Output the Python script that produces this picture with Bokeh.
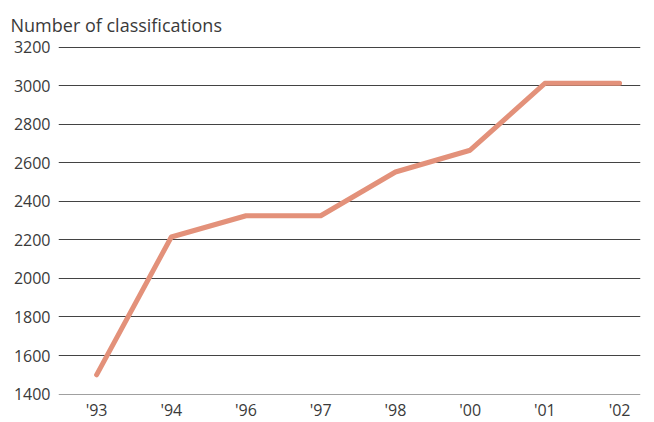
from bokeh.plotting import figure
from bokeh.models import FixedTicker, Range1d, Title
from bokeh.embed import file_html
from bokeh.resources import INLINE

years = ["'93", "'94", "'96", "'97", "'98", "'00", "'01", "'02"]
classifications = [1500, 2215, 2325, 2325, 2552, 2665, 3012, 3012]
y_ticks = [1400, 1600, 1800, 2000, 2200, 2400, 2600, 2800, 3000, 3200]

xs = list(range(len(years)))
FONT = "Open Sans"
TEXT = "#3a3a3a"

p = figure(frame_width=582, frame_height=348, output_backend="svg", toolbar_location=None,
           x_range=Range1d(-0.51, 7.28), y_range=Range1d(1398, 3203),
           min_border_left=58, min_border_right=14, min_border_top=46, min_border_bottom=24)
p.title = None
t = Title(text="Number of classifications", align="left", offset=-48,
          text_font=FONT, text_font_size="18px", text_font_style="normal",
          text_color=TEXT, standoff=20)
p.add_layout(t, "above")

p.line(xs, classifications, line_color="#E3917A", line_width=5, line_cap="round", line_join="round")

p.outline_line_color = None
p.xgrid.grid_line_color = None
p.ygrid.ticker = FixedTicker(ticks=y_ticks)
p.ygrid.grid_line_color = "#222222"
p.ygrid.grid_line_width = 1
p.ygrid.grid_line_alpha = 0.85

p.yaxis.ticker = FixedTicker(ticks=y_ticks)
p.xaxis.ticker = FixedTicker(ticks=xs)
p.xaxis.major_label_overrides = {i: lab for i, lab in enumerate(years)}
for ax in (p.xaxis, p.yaxis):
    ax.axis_line_color = None
    ax.major_tick_line_color = None
    ax.minor_tick_line_color = None
    ax.major_tick_out = 0
    ax.major_tick_in = 0
    ax.minor_tick_out = 0
    ax.minor_tick_in = 0
    ax.major_label_text_font = FONT
    ax.major_label_text_font_size = "16px"
    ax.major_label_text_color = TEXT
p.yaxis.major_label_standoff = 8
p.xaxis.major_label_standoff = 4

open("out.html", "w").write(file_html(p, INLINE))
